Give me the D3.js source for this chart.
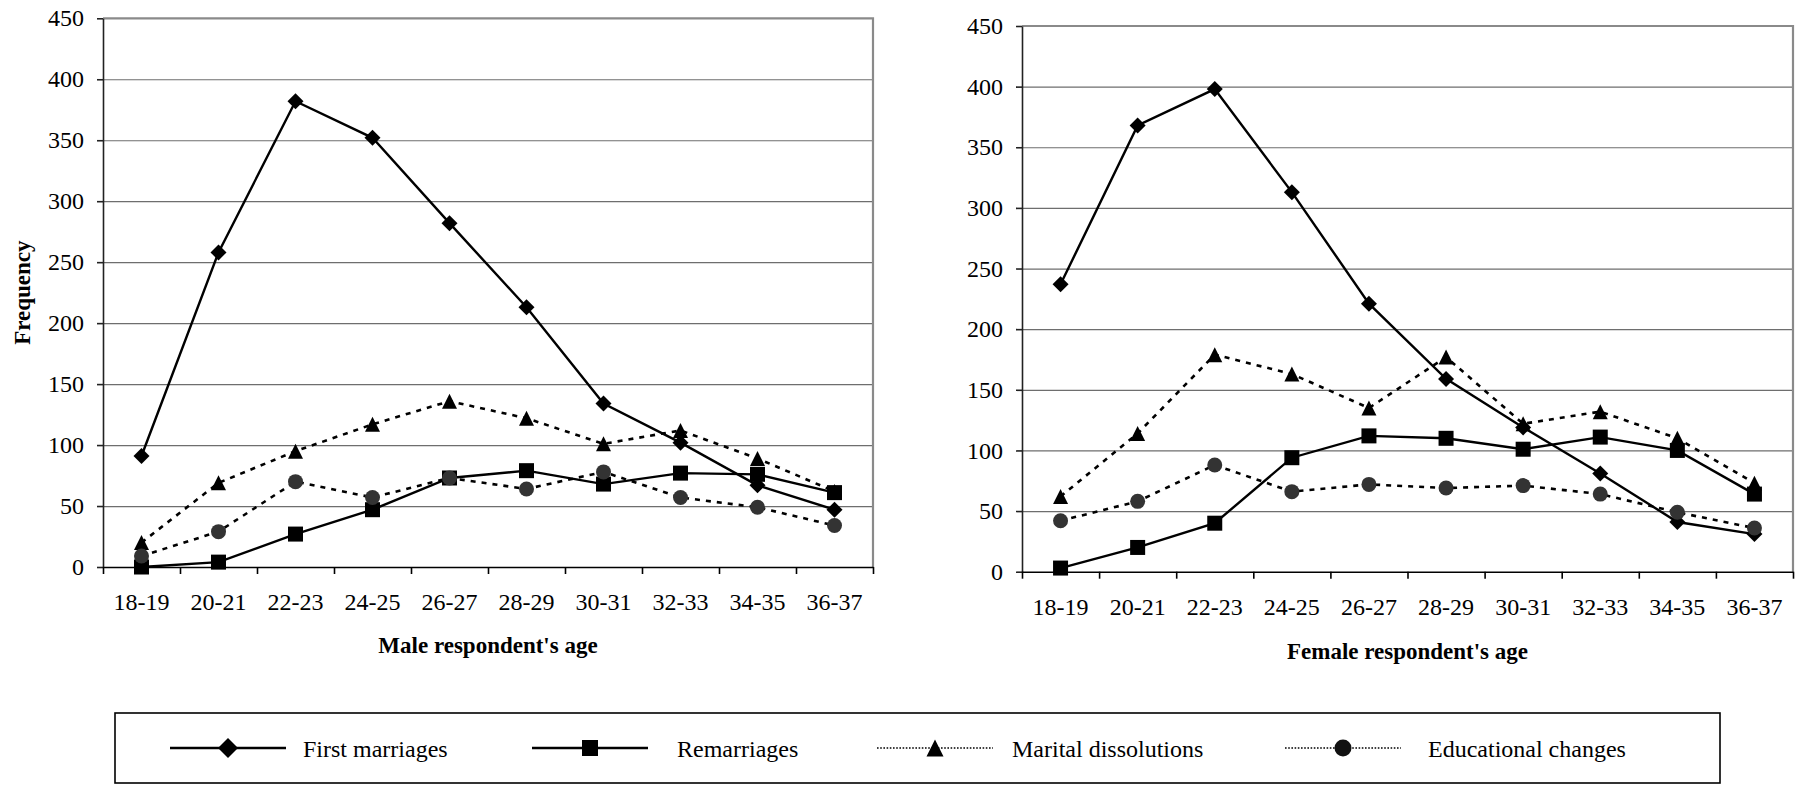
<!DOCTYPE html>
<html>
<head>
<meta charset="utf-8">
<script src="https://cdn.jsdelivr.net/npm/d3@7"></script>
<style>
  body { margin: 0; background: #fff; }
  svg text { font-family: "Liberation Serif", "Times New Roman", "DejaVu Serif", serif; fill: #000; }
</style>
</head>
<body>
<div id="chart"></div>
<script>
var svgWidth = 1798;
var svgHeight = 785;

// categories and tick values
var ageGroups = ["18-19", "20-21", "22-23", "24-25", "26-27", "28-29", "30-31", "32-33", "34-35", "36-37"];
var yTicks = [0, 50, 100, 150, 200, 250, 300, 350, 400, 450];

// male respondents
var maleFirst = [91, 258, 382, 352, 282, 213, 134, 102, 67, 47];
var maleRemar = [0, 4, 27, 47, 73, 79, 68, 77, 76, 61];
var maleDissol = [20, 69, 95, 117, 136, 122, 101, 112, 89, 62];
var maleEduc = [9, 29, 70, 57, 73, 64, 78, 57, 49, 34];

// female respondents
var femaleFirst = [237, 368, 398, 313, 221, 159, 119, 81, 41, 31];
var femaleRemar = [3, 20, 40, 94, 112, 110, 101, 111, 100, 64];
var femaleDissol = [62, 114, 179, 163, 135, 177, 122, 132, 110, 73];
var femaleEduc = [42, 58, 88, 66, 72, 69, 71, 64, 49, 36];

var seriesNames = ["First marriages", "Remarriages", "Marital dissolutions", "Educational changes"];

// look of each series (same order as seriesNames)
var seriesStyle = [
  { marker: "diamond", size: 16, fill: "#000", dash: null },
  { marker: "square", size: 15, fill: "#000", dash: null },
  { marker: "triangle", size: 15, fill: "#000", dash: "5,6" },
  { marker: "circle", size: 15, fill: "#333", dash: "5,6" }
];

var svg = d3.select("#chart")
  .append("svg")
  .attr("width", svgWidth)
  .attr("height", svgHeight);

function addMarker(g, type, size, fill) {
  var s = size / 2;
  if (type === "diamond") {
    g.append("path").attr("d", `M0,${-s}L${s},0L0,${s}L${-s},0Z`).attr("fill", fill);
  } else if (type === "square") {
    g.append("rect").attr("x", -s).attr("y", -s).attr("width", size).attr("height", size).attr("fill", fill);
  } else if (type === "triangle") {
    g.append("path").attr("d", `M0,${-s}L${s},${s}L${-s},${s}Z`).attr("fill", fill);
  } else {
    g.append("circle").attr("r", s).attr("fill", fill);
  }
}

function drawPanel(p, allSeries) {
  var x = d3.scaleBand().domain(ageGroups).range([p.left, p.right]).padding(0);
  var xEdge = d3.scaleLinear().domain([0, ageGroups.length]).range([p.left, p.right]);
  var y = d3.scaleLinear().domain([0, 450]).range([p.bottom, p.top]);

  // gridlines
  var grid = svg.append("g")
    .attr("transform", `translate(${p.left},0)`)
    .call(d3.axisLeft(y).tickValues(yTicks.slice(1, -1)).tickSize(-(p.right - p.left)).tickFormat(""));
  grid.select(".domain").remove();
  grid.selectAll("line").attr("stroke", "#6e6e6e").attr("stroke-width", 1.2);

  // plot area border, top and right
  svg.append("path")
    .attr("d", `M${p.left},${y(450)}H${p.right}V${p.bottom}`)
    .attr("fill", "none")
    .attr("stroke", "#8a8a8a")
    .attr("stroke-width", 2.2);

  // y axis
  var yAxis = svg.append("g")
    .attr("transform", `translate(${p.left},0)`)
    .call(d3.axisLeft(y).tickValues(yTicks).tickSize(6).tickSizeOuter(0).tickPadding(13));
  yAxis.selectAll("path, line").attr("stroke", "#222").attr("stroke-width", 1.6);
  yAxis.selectAll("text").attr("font-size", "24px");

  // x axis: ticks sit between categories
  var xTicks = svg.append("g")
    .attr("transform", `translate(0,${p.bottom})`)
    .call(d3.axisBottom(xEdge).tickValues(d3.range(ageGroups.length + 1)).tickSize(7).tickSizeOuter(0).tickFormat(""));
  xTicks.selectAll("path, line").attr("stroke", "#000").attr("stroke-width", 1.6);

  var xLabels = svg.append("g")
    .attr("transform", `translate(0,${p.bottom})`)
    .call(d3.axisBottom(x).tickSize(0).tickPadding(26));
  xLabels.select(".domain").remove();
  xLabels.selectAll("text").attr("font-size", "24px");

  // axis titles
  svg.append("text")
    .attr("x", (p.left + p.right) / 2)
    .attr("y", p.titleY)
    .attr("text-anchor", "middle")
    .attr("font-size", "23px")
    .attr("font-weight", "bold")
    .text(p.title);

  if (p.yTitle) {
    svg.append("text")
      .attr("transform", `translate(30,${(p.top + p.bottom) / 2}) rotate(-90)`)
      .attr("text-anchor", "middle")
      .attr("font-size", "23px")
      .attr("font-weight", "bold")
      .text("Frequency");
  }

  var line = d3.line()
    .x((d, i) => x(ageGroups[i]) + x.bandwidth() / 2)
    .y(d => y(d));

  allSeries.forEach(function(values, k) {
    var st = seriesStyle[k];
    svg.append("path")
      .datum(values)
      .attr("d", line)
      .attr("fill", "none")
      .attr("stroke", "#000")
      .attr("stroke-width", st.dash ? 2.6 : 2.4)
      .attr("stroke-dasharray", st.dash);

    svg.append("g")
      .selectAll("g")
      .data(values)
      .enter()
      .append("g")
      .attr("transform", (d, i) => `translate(${x(ageGroups[i]) + x.bandwidth() / 2},${y(d)})`)
      .each(function() { addMarker(d3.select(this), st.marker, st.size, st.fill); });
  });
}

drawPanel({ left: 103, right: 873, top: 18.3, bottom: 567, title: "Male respondent's age", titleY: 653, yTitle: true },
  [maleFirst, maleRemar, maleDissol, maleEduc]);
drawPanel({ left: 1022, right: 1793, top: 26, bottom: 571.7, title: "Female respondent's age", titleY: 659, yTitle: false },
  [femaleFirst, femaleRemar, femaleDissol, femaleEduc]);

// legend
svg.append("rect")
  .attr("x", 115).attr("y", 713)
  .attr("width", 1605).attr("height", 70)
  .attr("fill", "none")
  .attr("stroke", "#000")
  .attr("stroke-width", 1.6);

var legendX = [170, 532, 877, 1285];
var legendTextX = [303, 677, 1012, 1428];
var legendY = 748;
var legendSizes = [20, 16, 17, 17];

seriesNames.forEach(function(name, k) {
  var st = seriesStyle[k];
  var x0 = legendX[k];
  svg.append("line")
    .attr("x1", x0).attr("x2", x0 + 116)
    .attr("y1", legendY).attr("y2", legendY)
    .attr("stroke", "#000")
    .attr("stroke-width", st.dash ? 1.6 : 2.4)
    .attr("stroke-dasharray", st.dash ? "1.6,1.6" : null);
  var g = svg.append("g").attr("transform", `translate(${x0 + 58},${legendY})`);
  addMarker(g, st.marker, legendSizes[k], k === 3 ? "#111" : st.fill);
  svg.append("text")
    .attr("x", legendTextX[k])
    .attr("y", legendY + 9)
    .attr("font-size", "24px")
    .text(name);
});
</script>
</body>
</html>
